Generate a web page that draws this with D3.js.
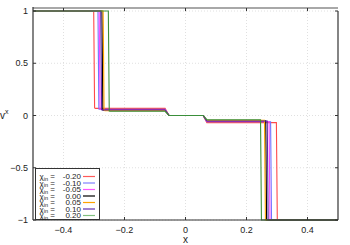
<!DOCTYPE html>
<html>
<head>
<meta charset="utf-8">
<script src="https://cdn.jsdelivr.net/npm/d3@7"></script>
<style>
body { margin: 0; background: #fff; }
svg { display: block; font-family: "Liberation Sans", Arial, sans-serif; }
</style>
</head>
<body>
<svg id="chart"></svg>
<script>
// DATA
var chiLabels = ["-0.20", "-0.10", "-0.05", "0.00", "0.05", "0.10", "0.20"];
var colors = ["#ff4a4a", "#7272ff", "#ff44ff", "#000000", "#ffa500", "#5a2aa8", "#3a8f3a"];
var legendColors = ["#ff5a5a", "#8080ff", "#ff55ff", "#000000", "#ffa500", "#6030b0", "#80c080"];

// breakpoints: [x, v]
var seriesPoints = [
	[[-0.5, 1], [-0.301, 1], [-0.298, 0.072], [-0.295, 0.068], [-0.067, 0.068], [-0.054, 0], [0.058, 0], [0.070, -0.068], [0.298, -0.068], [0.301, -1], [0.5, -1]],
	[[-0.5, 1], [-0.287, 1], [-0.284, 0.062], [-0.281, 0.060], [-0.067, 0.060], [-0.054, 0], [0.058, 0], [0.070, -0.060], [0.279, -0.060], [0.282, -1], [0.5, -1]],
	[[-0.5, 1], [-0.283, 1], [-0.280, 0.059], [-0.277, 0.057], [-0.067, 0.057], [-0.054, 0], [0.058, 0], [0.070, -0.057], [0.274, -0.057], [0.277, -1], [0.5, -1]],
	[[-0.5, 1], [-0.274, 1], [-0.271, 0.052], [-0.268, 0.050], [-0.067, 0.050], [-0.054, 0], [0.058, 0], [0.070, -0.050], [0.263, -0.050], [0.266, -1], [0.5, -1]],
	[[-0.5, 1], [-0.270, 1], [-0.267, 0.049], [-0.264, 0.047], [-0.067, 0.047], [-0.054, 0], [0.058, 0], [0.070, -0.047], [0.259, -0.047], [0.262, -1], [0.5, -1]],
	[[-0.5, 1], [-0.278, 1], [-0.275, 0.055], [-0.272, 0.053], [-0.067, 0.053], [-0.054, 0], [0.058, 0], [0.070, -0.053], [0.268, -0.053], [0.271, -1], [0.5, -1]],
	[[-0.5, 1], [-0.253, 1], [-0.250, 0.042], [-0.247, 0.040], [-0.067, 0.040], [-0.054, 0], [0.058, 0], [0.070, -0.040], [0.246, -0.040], [0.249, -1], [0.5, -1]]
];

var xTicks = [-0.4, -0.2, 0, 0.2, 0.4];
var yTicks = [-1, -0.5, 0, 0.5, 1];

// LAYOUT
var width = 350, height = 245;
var plotL = 33, plotR = 338, plotT = 11, plotB = 220;

var svg = d3.select("#chart").attr("width", width).attr("height", height);

// SCALES
var x = d3.scaleLinear().domain([-0.5, 0.5]).range([plotL, plotR]);
var y = d3.scaleLinear().domain([-1, 1]).range([plotB, plotT]);

// GRID
var grid = svg.append("g").attr("stroke", "#d8d8d8").attr("stroke-width", 0.8).attr("stroke-dasharray", "1,2");
grid.selectAll(".gx").data(xTicks).enter().append("line")
	.attr("x1", d => x(d)).attr("x2", d => x(d))
	.attr("y1", plotT - 3).attr("y2", plotB);
grid.selectAll(".gy").data(yTicks).enter().append("line")
	.attr("x1", plotL).attr("x2", plotR)
	.attr("y1", d => y(d)).attr("y2", d => y(d));

// CURVES
var line = d3.line().x(d => x(d[0])).y(d => y(d[1]));
svg.append("g")
	.selectAll("path")
	.data(seriesPoints)
	.enter()
	.append("path")
	.attr("d", line)
	.attr("fill", "none")
	.attr("stroke", (d, i) => colors[i])
	.attr("stroke-width", 1.1);

// FRAME
var frame = svg.append("g");
frame.append("line").attr("x1", plotL).attr("x2", plotR).attr("y1", plotT - 3).attr("y2", plotT - 3)
	.attr("stroke", "#a8a8a8").attr("stroke-width", 2);
frame.append("line").attr("x1", plotL).attr("x2", plotL).attr("y1", plotT - 4).attr("y2", plotB)
	.attr("stroke", "#333").attr("stroke-width", 1.2);
frame.append("line").attr("x1", plotR).attr("x2", plotR).attr("y1", plotT).attr("y2", plotB)
	.attr("stroke", "#333").attr("stroke-width", 1.2);
frame.append("line").attr("x1", plotL).attr("x2", plotR).attr("y1", plotB).attr("y2", plotB)
	.attr("stroke", "#333").attr("stroke-width", 1.2);

// inner ticks
var ticks = svg.append("g").attr("stroke", "#333").attr("stroke-width", 1);
xTicks.forEach(function(t) {
	ticks.append("line").attr("x1", x(t)).attr("x2", x(t)).attr("y1", plotB).attr("y2", plotB - 3);
	ticks.append("line").attr("x1", x(t)).attr("x2", x(t)).attr("y1", plotT - 3).attr("y2", plotT);
});
yTicks.forEach(function(t) {
	ticks.append("line").attr("x1", plotL).attr("x2", plotL + 3).attr("y1", y(t)).attr("y2", y(t));
	ticks.append("line").attr("x1", plotR).attr("x2", plotR - 3).attr("y1", y(t)).attr("y2", y(t));
});

// TICK LABELS
var fmt = d3.format("");
svg.append("g")
	.selectAll("text")
	.data(xTicks)
	.enter()
	.append("text")
	.attr("x", d => x(d))
	.attr("y", plotB + 13)
	.attr("text-anchor", "middle")
	.attr("font-size", 9)
	.attr("fill", "#222")
	.text(d => fmt(d));

svg.append("g")
	.selectAll("text")
	.data(yTicks)
	.enter()
	.append("text")
	.attr("x", plotL - 5)
	.attr("y", d => y(d) + 3.2)
	.attr("text-anchor", "end")
	.attr("font-size", 9)
	.attr("fill", "#222")
	.text(d => fmt(d));

// AXIS LABELS
svg.append("text")
	.attr("x", (plotL + plotR) / 2)
	.attr("y", 243)
	.attr("text-anchor", "middle")
	.attr("font-size", 10)
	.attr("fill", "#222")
	.text("x");

var ylab = svg.append("text")
	.attr("x", 0)
	.attr("y", 119)
	.attr("font-size", 10)
	.attr("fill", "#222");
ylab.append("tspan").text("v");
ylab.append("tspan").attr("font-size", 7).attr("dy", -5).text("x");

// LEGEND
var legend = svg.append("g");
legend.append("rect")
	.attr("x", 35.5).attr("y", 168.5)
	.attr("width", 64).attr("height", 51)
	.attr("fill", "#fff")
	.attr("stroke", "#333")
	.attr("stroke-width", 1);

var rows = legend.selectAll(".row")
	.data(chiLabels)
	.enter()
	.append("g")
	.attr("transform", (d, i) => "translate(0," + (176.5 + i * 6.5) + ")");

rows.each(function(d, i) {
	var g = d3.select(this);
	var t = g.append("text")
		.attr("x", 39.5)
		.attr("y", 2.8)
		.attr("font-size", 8)
		.attr("fill", "#222");
	t.append("tspan").text("χ");
	t.append("tspan").attr("font-size", 5.5).attr("dy", 1.5).text("in");
	t.append("tspan").attr("dy", -1.5).text(" =");

	g.append("text")
		.attr("x", 81)
		.attr("y", 2.8)
		.attr("text-anchor", "end")
		.attr("font-size", 8)
		.attr("fill", "#222")
		.text(d);

	g.append("line")
		.attr("x1", 83).attr("x2", 95)
		.attr("y1", 0).attr("y2", 0)
		.attr("stroke", legendColors[i])
		.attr("stroke-width", 1.2);
});
</script>
</body>
</html>
